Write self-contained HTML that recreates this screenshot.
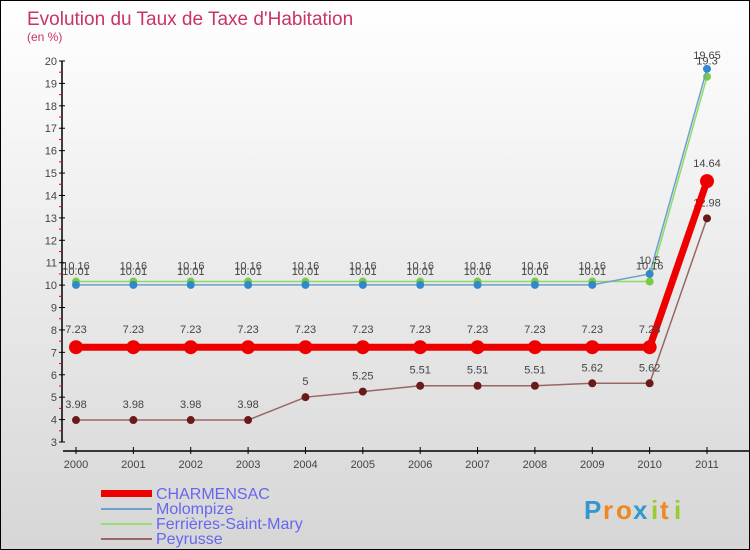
<!DOCTYPE html>
<html><head><meta charset="utf-8"><style>
body{margin:0}
#c{position:relative;width:748px;height:548px;border:1px solid #000;background:linear-gradient(#ffffff,#d6d6d6);overflow:hidden;font-family:"Liberation Sans",sans-serif}
svg text{font-family:"Liberation Sans",sans-serif}
</style></head><body>
<div id="c">
<svg id="s" width="748" height="548">
<text x="26" y="24" font-size="19" fill="#c8336a">Evolution du Taux de Taxe d'Habitation</text>
<text x="26" y="40" font-size="12" fill="#c8336a">(en %)</text>
<g id="axes"></g><g id="series"></g>
<g>
<rect x="100" y="489" width="51" height="7" fill="#e00"/>
<text x="155" y="498" font-size="16" fill="#6666ee">CHARMENSAC</text>
<line x1="100" x2="151" y1="508" y2="508" stroke="#6fa0c8" stroke-width="2"/>
<text x="155" y="513" font-size="16" fill="#6666ee">Molompize</text>
<line x1="100" x2="151" y1="523" y2="523" stroke="#99dd77" stroke-width="2"/>
<text x="155" y="528" font-size="16" fill="#6666ee">Ferrières-Saint-Mary</text>
<line x1="100" x2="151" y1="538" y2="538" stroke="#996666" stroke-width="2"/>
<text x="155" y="543" font-size="16" fill="#6666ee">Peyrusse</text>
</g>
<g font-size="26" font-weight="bold">
<text x="583" y="518" fill="#3399cc">P</text><text x="602" y="518" fill="#ee8822">r</text><text x="615" y="518" fill="#ee8822">o</text><text x="632" y="518" fill="#3399cc">x</text><text x="650" y="518" fill="#99cc33">i</text><text x="659" y="518" fill="#ee8822">t</text><text x="673" y="518" fill="#99cc33">i</text>
</g>
</svg></div>
<script>
const years=[2000,2001,2002,2003,2004,2005,2006,2007,2008,2009,2010,2011];
const charmensac=[7.23,7.23,7.23,7.23,7.23,7.23,7.23,7.23,7.23,7.23,7.23,14.64];
const molompize=[10.01,10.01,10.01,10.01,10.01,10.01,10.01,10.01,10.01,10.01,10.5,19.65];
const ferrieres=[10.16,10.16,10.16,10.16,10.16,10.16,10.16,10.16,10.16,10.16,10.16,19.3];
const peyrusse=[3.98,3.98,3.98,3.98,5,5.25,5.51,5.51,5.51,5.62,5.62,12.98];
const yTicks=[3,4,5,6,7,8,9,10,11,12,13,14,15,16,17,18,19,20];
const NS='http://www.w3.org/2000/svg';
const xs=i=>75+i*(706-75)/11;
const ys=v=>441-(v-3)*(441-60)/17;
function mk(t,a,p){const e=document.createElementNS(NS,t);for(const k in a)e.setAttribute(k,a[k]);p.appendChild(e);return e;}
const ax=document.getElementById('axes'),se=document.getElementById('series');
let l=mk('line',{x1:61,x2:61,y1:60,y2:441,stroke:'#000','stroke-width':1.5},ax);


l=mk('line',{x1:62,x2:748,y1:450,y2:450,stroke:'#000','stroke-width':1.5},ax);


yTicks.forEach(v=>{const y=ys(v);
mk('line',{x1:58,x2:64,y1:y,y2:y,stroke:'#000'},ax);
if(v<20)mk('line',{x1:58,x2:61,y1:ys(v+0.5),y2:ys(v+0.5),stroke:'#e00'},ax);
const t=mk('text',{x:56,y:y+4,'font-size':11,fill:'#444','text-anchor':'end'},ax);t.textContent=v;

});
years.forEach((yr,i)=>{const x=xs(i);mk('line',{x1:x,x2:x,y1:446,y2:453,stroke:'#000'},ax);
const t=mk('text',{x:x,y:467,'font-size':11,fill:'#444','text-anchor':'middle'},ax);t.textContent=yr;

});
function series(name,vals,col,dot,w,r,dy){
const g=mk('g',{},se);


mk('polyline',{points:vals.map((v,i)=>xs(i)+','+ys(v)).join(' '),fill:'none',stroke:col,'stroke-width':w},g);
vals.forEach((v,i)=>{const c=mk('circle',{cx:xs(i),cy:ys(v),r:r,fill:dot},g);


const t=mk('text',{x:xs(i),y:ys(v)+dy,'font-size':11,fill:'#444','text-anchor':'middle'},g);t.textContent=v;

});}
series('peyrusse',peyrusse,'#996666','#6b1a1a',1.5,4,-12);
series('ferrieres',ferrieres,'#88dd66','#77cc44',1.5,4,-12);
series('molompize',molompize,'#6fa0c8','#3388cc',1.5,4,-10);
series('charmensac',charmensac,'#ee0000','#ee0000',7,7,-14);
</script></body></html>
